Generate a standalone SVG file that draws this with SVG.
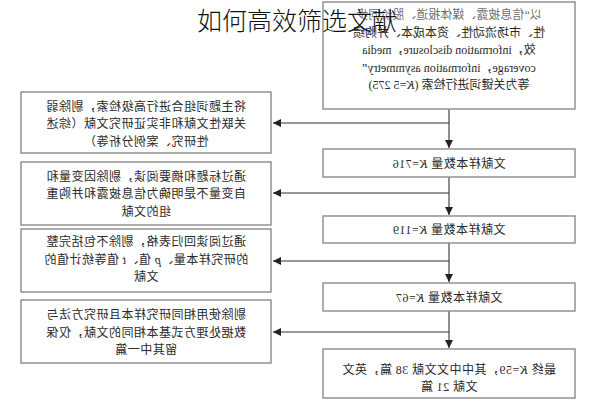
<svg xmlns="http://www.w3.org/2000/svg" width="596" height="400" viewBox="0 0 596 400">
<defs>
<style>
.box{fill:#fff;stroke:#8a8a8a;stroke-width:1.4}
.t{font-family:"Noto Sans CJK SC","Liberation Serif",serif;font-size:12px;letter-spacing:0.5px;fill:#2a2a2a;text-anchor:middle}
.tt{font-family:"Liberation Serif","Noto Sans CJK SC",serif;font-size:12px;fill:#2a2a2a;text-anchor:middle}
.l{font-family:"Liberation Serif",serif}
.k{font-family:"Liberation Serif",serif;font-style:italic}
.c{stroke:#333;stroke-width:1.1;fill:none;marker-end:url(#ah)}
.title{font-family:"Noto Sans CJK SC",sans-serif;font-weight:300;font-size:25px;fill:#111;text-anchor:middle}
</style>
<marker id="ah" markerUnits="userSpaceOnUse" markerWidth="8" markerHeight="8" refX="8" refY="4" orient="auto">
<path d="M0,0 L8,4 L0,8 z" fill="#222"/>
</marker>
</defs>
<rect width="596" height="400" fill="#fff"/>
<g transform="matrix(-1 0 0 1 596 0)">
<g id="connectors">
<line class="c" x1="147" y1="109" x2="147" y2="148"/>
<line class="c" x1="147" y1="123" x2="323" y2="123"/>
<line class="c" x1="147" y1="177" x2="147" y2="215"/>
<line class="c" x1="147" y1="193" x2="323" y2="193"/>
<line class="c" x1="147" y1="243" x2="147" y2="282"/>
<line class="c" x1="147" y1="261" x2="323" y2="261"/>
<line class="c" x1="147" y1="311" x2="147" y2="348"/>
<line class="c" x1="147" y1="332" x2="323" y2="332"/>
</g>
<g id="n-start">
<rect class="box" x="21" y="2" width="252" height="107"/>
<text class="tt" x="147" y="19"><tspan x="147" y="19" fill-opacity="0.7">以“信息披露、媒体报道、股价同步</tspan><tspan x="147" y="36.5">性、市场流动性、资本成本、并购绩</tspan><tspan x="147" y="54">效，information disclosure，media</tspan><tspan x="147" y="71.5">coverage，information asymmetry”</tspan><tspan x="147" y="89">等为关键词进行检索 (<tspan font-style="italic">K</tspan>=5 275)</tspan></text>
</g>
<g id="n-k716">
<rect class="box" x="21" y="149" width="252" height="28"/>
<text class="t" x="147" y="167.5">文献样本数量 <tspan class="k">K</tspan><tspan class="l">=716</tspan></text>
</g>
<g id="n-k119">
<rect class="box" x="21" y="216" width="252" height="27"/>
<text class="t" x="147" y="234">文献样本数量 <tspan class="k">K</tspan><tspan class="l">=119</tspan></text>
</g>
<g id="n-k67">
<rect class="box" x="21" y="283" width="252" height="28"/>
<text class="t" x="147" y="301.5">文献样本数量 <tspan class="k">K</tspan><tspan class="l">=67</tspan></text>
</g>
<g id="n-final">
<rect class="box" x="21" y="349" width="252" height="49"/>
<text class="t" x="147" y="373.5"><tspan x="147" y="373.5">最终 <tspan class="k">K</tspan><tspan class="l">=59</tspan>，其中中文文献 <tspan class="l">38</tspan> 篇，英文</tspan><tspan x="147" y="391">文献 <tspan class="l">21</tspan> 篇</tspan></text>
</g>
<g id="n-ex1">
<rect class="box" x="325" y="92" width="250" height="61"/>
<text class="t" x="450" y="110.5"><tspan x="450" y="110.5">将主题词组合进行高级检索，剔除弱</tspan><tspan x="450" y="128">关联性文献和非实证研究文献（综述</tspan><tspan x="450" y="145.5">性研究、案例分析等）</tspan></text>
</g>
<g id="n-ex2">
<rect class="box" x="325" y="162" width="250" height="63"/>
<text class="t" x="450" y="180.5"><tspan x="450" y="180.5">通过标题和摘要阅读，剔除因变量和</tspan><tspan x="450" y="198">自变量不是明确为信息披露和并购重</tspan><tspan x="450" y="215.5">组的文献</tspan></text>
</g>
<g id="n-ex3">
<rect class="box" x="325" y="229" width="250" height="63"/>
<text class="t" x="450" y="246"><tspan x="450" y="246">通过阅读回归表格，剔除不包括完整</tspan><tspan x="450" y="263.5">的研究样本量、<tspan class="k">p</tspan> 值、<tspan class="k">t</tspan> 值等统计值的</tspan><tspan x="450" y="281">文献</tspan></text>
</g>
<g id="n-ex4">
<rect class="box" x="325" y="300" width="250" height="63"/>
<text class="t" x="450" y="319"><tspan x="450" y="319">剔除使用相同研究样本且研究方法与</tspan><tspan x="450" y="336.5">数据处理方式基本相同的文献，仅保</tspan><tspan x="450" y="354">留其中一篇</tspan></text>
</g>
</g>
<g id="title">
<text class="title" x="297" y="29.5">如何高效筛选文献</text>
</g>
</svg>
